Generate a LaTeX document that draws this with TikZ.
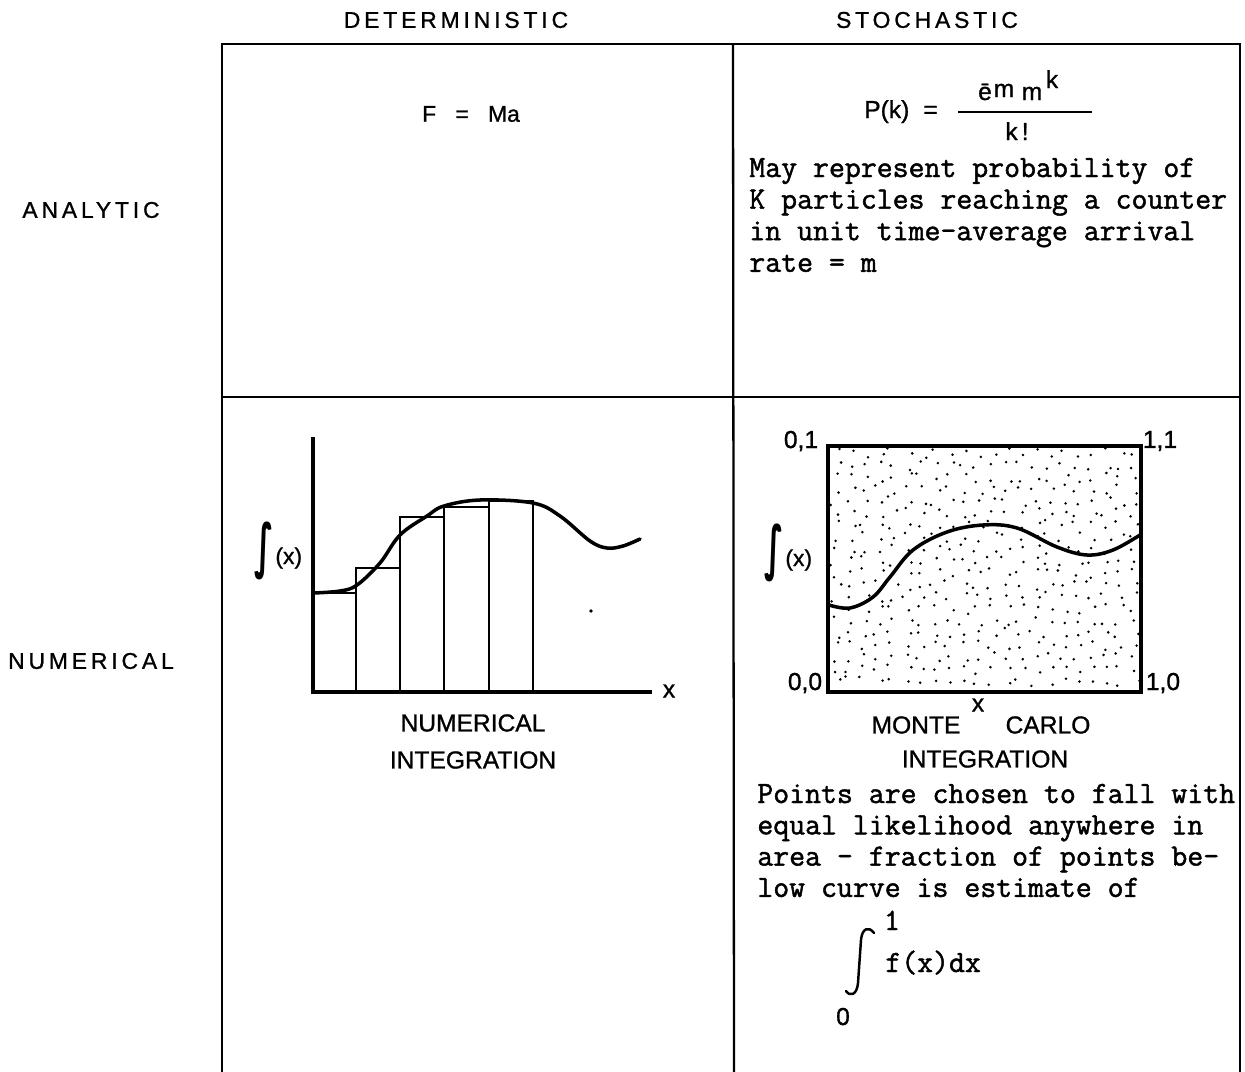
\documentclass[tikz,border=0pt]{standalone}
\usepackage{fontspec}
\usepackage{graphicx}
\setmainfont{Liberation Sans}[FakeBold=1.0]
\setmonofont{Latin Modern Mono}[FakeBold=1.5]
\newfontfamily\hdfont{Liberation Sans}[LetterSpace=17,FakeBold=1.0]
\newfontfamily\intfont{DejaVu Sans Bold}
\newcommand{\intx}[1]{{\intfont\raisebox{-9pt}{\resizebox*{#1}{33pt}{\raisebox{\depth}{∫}}}}\kern1pt{\fontsize{13}{15}\selectfont(x)}}
\begin{document}
\begin{tikzpicture}[x=0.02cm,y=-0.02cm,
  gridline/.style={line width=1.3pt},
  axisline/.style={line width=2pt},
  barline/.style={line width=1.4pt},
  curveline/.style={line width=2pt,line join=round,line cap=round},
  lbl/.style={font=\fontsize{14}{16}\selectfont,inner sep=0pt},
  frm/.style={font=\fontsize{14}{16}\selectfont,inner sep=0pt,anchor=base},
  hd/.style={font=\hdfont\fontsize{13}{15}\selectfont,inner sep=0pt},
  tw/.style={font=\ttfamily\fontsize{17.6}{19}\selectfont,inner sep=0pt,anchor=base west},
  intlbl/.style={inner sep=0pt,anchor=base west}
]
\useasboundingbox (0,0) rectangle (1245,1072);
% grid
\draw[gridline] (222,1072) -- (222,44) -- (1240,44) -- (1240,1072);
\draw[gridline] (733,44) -- (734,1072);
\draw[gridline] (222,397) -- (1240,397);
% headers
\node[hd] (hdet) at (456,20) {DETERMINISTIC};
\node[hd] (hsto) at (927,20) {STOCHASTIC};
\node[hd] (hana) at (91,210) {ANALYTIC};
\node[hd] (hnum) at (91,661) {NUMERICAL};
% analytic deterministic
\node[font=\fontsize{13}{15}\selectfont,inner sep=0pt] (fma) at (471,114) {F\hspace{11pt}=\hspace{11pt}Ma};
% analytic stochastic
\node[frm] (pk) at (901,118) {P(k)\hspace{8pt}=};
\draw[line width=1pt] (958,112) -- (1092,112);
\node[frm] (ebar) at (985,100) {ē};
\node[frm] (em) at (1004,97) {m};
\node[frm] (mm) at (1032,100) {m};
\node[frm] (mk) at (1052,88) {k};
\node[frm] (kf) at (1017,140) {k\,!};
\foreach \t [count=\i] in {May represent probability of,K particles reaching a counter,in unit time-average arrival,rate = m}
  \node[tw] (ta\i) at (749,{177+31.6*(\i-1)}) {\t};
% numerical deterministic
\draw[barline] (313,692) rectangle (356,593);
\draw[barline] (356,692) rectangle (400,568);
\draw[barline] (400,692) rectangle (444,517);
\draw[barline] (444,692) rectangle (489,507);
\draw[barline] (489,692) rectangle (533,501);
\draw[axisline] (313,437) -- (313,692) -- (652,692);
\draw[curveline] plot[smooth,tension=0.6] coordinates {(313,593) (340,591) (357,585) (380,563) (400,535) (427,516) (444,506) (480,500) (533,503) (560,516) (590,541) (607,548) (623,546) (640,539)};
\fill (591,611) circle (1.1pt);
\node[lbl] (xl1) at (669,691) {x};
\node[intlbl] (fx1) at (254,564) {\intx{11pt}};
\node[lbl] (ni1) at (473,723) {NUMERICAL};
\node[lbl] (ni2) at (473,760) {INTEGRATION};
% numerical stochastic
\pgfmathsetseed{4711}
\foreach \i in {0,...,21}{
  \foreach \j in {0,...,19}{
    \pgfmathsetmacro\rx{836+14.2*\i+(rnd-0.5)*11}
    \pgfmathsetmacro\ry{453+12*\j+(rnd-0.5)*10}
    \fill (\rx,\ry) circle (0.8pt);
  }
}
\draw[axisline] (828,446) rectangle (1141,692);
\draw[curveline] plot[smooth,tension=0.6] coordinates {(829,605) (850,608) (873,597) (890,577) (913,550) (947,532) (983,525) (1017,528) (1057,547) (1087,555) (1113,550) (1140,535)};
\node[lbl] (c01) at (801,441) {0,1};
\node[lbl] (c11) at (1160,441) {1,1};
\node[lbl] (c00) at (805,683) {0,0};
\node[lbl] (c10) at (1163,683) {1,0};
\node[lbl] (xl2) at (978,705) {x};
\node[intlbl] (fx2) at (764,566) {\intx{11pt}};
\node[lbl] (mc1) at (916,725) {MONTE};
\node[lbl] (mc2) at (1048,725) {CARLO};
\node[lbl] (mc3) at (985,759) {INTEGRATION};
\foreach \t [count=\i] in {Points are chosen to fall with,equal likelihood anywhere in,area - fraction of points be-,low curve is estimate of}
  \node[tw] (tb\i) at (757,{803+31.3*(\i-1)}) {\t};
\node[tw,anchor=base] (up) at (892,930) {1};
\draw[line width=1.4pt,line cap=round] (874,933) .. controls (869,926) and (862,928) .. (861,940) -- (858,983) .. controls (857,995) and (850,997) .. (846,991);
\node[tw] (fdx) at (885,972) {f(x)dx};
\node[lbl,anchor=base] (lo) at (843,1025) {0};
\end{tikzpicture}
\end{document}
